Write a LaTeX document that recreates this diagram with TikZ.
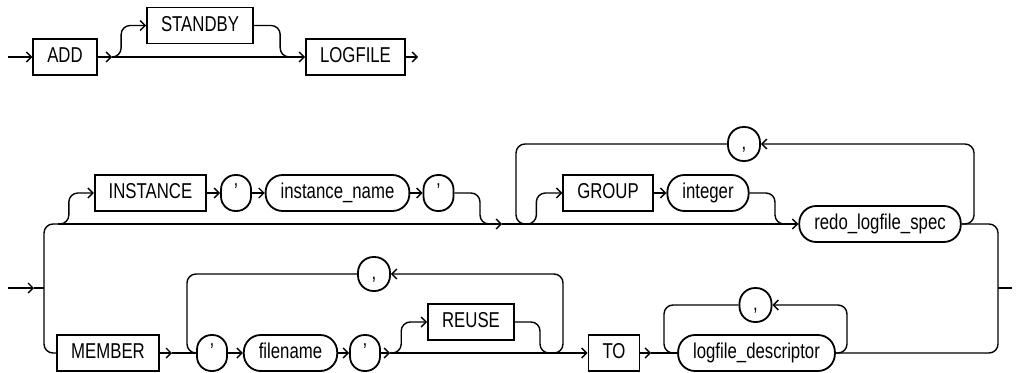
\documentclass[tikz,border=0pt]{standalone}
\usepackage{fontspec}
\setmainfont{Liberation Sans}[FakeStretch=0.78]
\usetikzlibrary{arrows.meta}

\begin{document}
\begin{tikzpicture}[
  x=1pt, y=-1pt, >={Straight Barb[length=5pt,width=10pt]},
  font=\fontsize{21.5}{25}\selectfont,
  rail/.style={line width=1.4pt, rounded corners=9pt},
  kw/.style={draw, line width=1.8pt, minimum height=36pt, inner xsep=14pt, text height=15pt, text depth=4pt},
  term/.style={kw, rounded corners=17pt, inner xsep=15pt},
  sym/.style={kw, rounded corners=14.5pt, inner xsep=0pt, minimum width=30pt},
  sep/.style={sym, minimum width=32pt, minimum height=34pt, rounded corners=15.5pt},
]
\useasboundingbox (0,0) rectangle (1016,372);

% ADD [STANDBY] LOGFILE
\node[kw] (add) at (65,57) {ADD};
\node[kw] (standby) at (200,25.5) {STANDBY};
\node[kw] (logfile) at (355.5,57) {LOGFILE};
\coordinate (in1) at (8,57);
\coordinate (s1) at (112,57);
\coordinate (out1) at (418,57);
\draw[rail,->] (in1) -- (add);
\draw[rail,->] (add) -- (s1);
\draw[rail,->] (s1) -- (logfile);
\draw[rail,->] (s1) -| ([xshift=-25pt]standby.west) -- (standby);
\draw[rail] (standby) -| ([xshift=-25pt]logfile.west) -- ++(10,0);
\draw[rail,->] (logfile) -- (out1);

% INSTANCE / GROUP branch
\node[kw] (instance) at (150.5,193) {INSTANCE};
\node[sym] (q1) at (236,193) {'};
\node[term] (instname) at (337.5,193) {instance\_name};
\node[sym] (q2) at (438.5,193) {'};
\node[kw] (group) at (608,193) {GROUP};
\node[term] (integer) at (708,193) {integer};
\node[term] (redo) at (880,224) {redo\_logfile\_spec};
\node[sep] (comma1) at (744,144) {,};

% MEMBER / TO branch
\node[kw] (member) at (108,353) {MEMBER};
\node[sym] (q3) at (212,353) {'};
\node[term] (filename) at (290.5,353) {filename};
\node[sym] (q4) at (365,353) {'};
\node[kw] (reuse) at (471,322) {REUSE};
\node[sep] (comma2) at (374,274) {,};
\node[kw] (tokw) at (614,353) {TO};
\node[term] (logd) at (756.5,353) {logfile\_descriptor};
\node[sep] (comma3) at (755.5,305) {,};

\coordinate (in2) at (8,288);
\coordinate (a2) at (34,288);
\coordinate (bus) at (44,288);
\coordinate (s2) at (58,224);
\coordinate (j2) at (480,224);
\coordinate (a3) at (502,224);
\coordinate (c1l) at (516,224);
\coordinate (s3) at (528,224);
\coordinate (j3) at (775,224);
\coordinate (c1r) at (974,144);
\coordinate (bus2) at (998,288);
\coordinate (out2) at (1012,288);
\coordinate (a4) at (172,353);
\coordinate (c2l) at (187,353);
\coordinate (s4) at (390,353);
\coordinate (j4) at (540,353);
\coordinate (j5) at (551,353);
\coordinate (c2r) at (563,274);
\coordinate (a5) at (651,353);
\coordinate (c3l) at (664,353);
\coordinate (c3r) at (847,305);

\draw[rail,->] (in2) -- (a2);
\draw[rail] (a2) -- (bus);
\draw[rail] (bus) |- (s2);
\draw[rail] (bus) |- (member);

\draw[rail,->] (s2) -| ([xshift=-25pt]instance.west) -- (instance);
\draw[rail,->] (instance) -- (q1);
\draw[rail,->] (q1) -- (instname);
\draw[rail,->] (instname) -- (q2);
\draw[rail] (q2) -| (j2) -- ++(12,0);
\draw[rail,->] (s2) -- (a3);
\draw[rail,->] (a3) -- (redo);
\draw[rail,->] (redo.east) -| (c1r) -- (comma1);
\draw[rail] (comma1) -| (c1l) -- (s3);
\draw[rail,->] (s3) -| ([xshift=-26pt]group.west) -- (group);
\draw[rail,->] (group) -- (integer);
\draw[rail] (integer) -| (j3) -- ++(12,0);
\draw[rail] (redo.east) -| (bus2) |- (logd.east);
\draw[rail] (bus2) -- (out2);

\draw[rail,->] (member) -- (a4);
\draw[rail] (a4) -- (q3);
\draw[rail] (comma2) -| (c2l) -- (q3);
\draw[rail,->] (q3) -- (filename);
\draw[rail,->] (filename) -- (q4);
\draw[rail,->] (q4) -- (s4);
\draw[rail,->] (s4) -| ([xshift=-26pt]reuse.west) -- (reuse);
\draw[rail,->] (s4) -- (tokw);
\draw[rail] (reuse) -| (j4) -- ++(12,0);
\draw[rail,->] (j5) -| (c2r) -- (comma2);
\draw[rail,->] (tokw) -- (a5);
\draw[rail] (a5) -- (logd);
\draw[rail] (comma3) -| (c3l) -- (logd);
\draw[rail,->] (logd.east) -| (c3r) -- (comma3);
\end{tikzpicture}
\end{document}
